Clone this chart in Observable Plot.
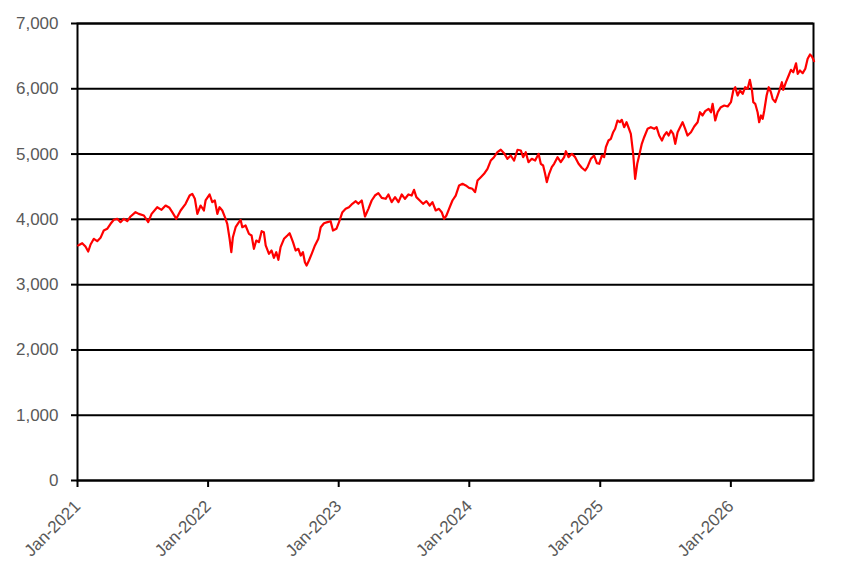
<!DOCTYPE html>
<html><head><meta charset="utf-8">
<script src="https://cdn.jsdelivr.net/npm/d3@7"></script>
<script src="https://cdn.jsdelivr.net/npm/@observablehq/plot@0.6"></script>
<style>body{margin:0;background:#fff}</style>
</head><body><div id="chart"></div>
<script>
// years elapsed since 1 Jan 2021 for each traced point
const yearOffsets = [0.005,0.036,0.061,0.082,0.100,0.125,0.151,0.176,0.201,0.227,0.253,0.278,0.304,0.329,0.355,0.381,0.406,0.444,0.469,0.508,0.541,0.567,0.610,0.643,0.674,0.704,0.725,0.756,0.789,0.827,0.858,0.878,0.898,0.917,0.942,0.967,
0.980,1.011,1.031,1.051,1.070,1.087,1.108,1.128,1.146,1.164,1.177,1.189,1.210,1.235,1.248,1.261,1.286,1.312,1.332,1.350,1.368,1.388,1.409,1.426,1.440,1.465,1.485,1.503,1.521,1.537,1.554,1.580,1.606,1.623,1.649,1.669,1.690,1.708,1.725,1.740,1.753,1.771,1.792,1.817,1.843,1.861,1.886,1.912,1.937,1.955,1.981,2.001,2.027,2.052,
2.077,2.103,2.129,2.149,2.175,2.200,2.226,2.251,2.276,2.302,2.328,2.358,2.379,2.404,2.430,2.456,2.481,2.506,2.532,2.557,2.575,2.593,2.619,2.644,2.670,2.695,2.716,2.741,2.766,2.787,2.805,2.823,2.843,2.869,2.894,2.920,2.946,2.971,
2.996,3.022,3.042,3.061,3.086,3.111,3.137,3.162,3.187,3.213,3.239,3.264,3.290,3.315,3.341,3.367,3.392,3.410,3.430,3.451,3.476,3.502,3.528,3.545,3.563,3.578,3.591,3.609,3.629,3.647,3.673,3.698,3.724,3.737,3.757,3.783,3.808,3.834,3.859,3.884,3.902,3.928,3.953,3.974,3.992,4.012,4.030,4.043,
4.063,4.081,4.099,4.114,4.132,4.150,4.165,4.183,4.201,4.217,4.234,4.252,4.267,4.283,4.298,4.318,4.336,4.362,4.387,4.413,4.431,4.451,4.472,4.489,4.508,4.523,4.541,4.558,4.574,4.592,4.609,4.630,4.650,4.668,4.694,4.719,4.745,4.763,4.783,4.803,4.829,4.847,4.860,4.880,4.898,4.923,4.949,4.975,
5.000,5.018,5.033,5.051,5.069,5.090,5.109,5.128,5.145,5.161,5.171,5.186,5.204,5.216,5.230,5.243,5.255,5.273,5.289,5.306,5.319,5.339,5.357,5.375,5.390,5.400,5.421,5.442,5.459,5.477,5.498,5.511,5.528,5.549,5.569,5.587,5.605,5.620,5.636];

const indexValues = [3600,3635,3584,3508,3615,3702,3666,3717,3829,3855,3932,3993,4008,3957,4008,3972,4044,4110,4084,4059,3957,4084,4186,4146,4212,4177,4110,4008,4136,4238,4365,4391,4315,4084,4212,4136,
4289,4381,4263,4289,4084,4186,4136,4033,3932,3702,3497,3727,3880,3957,3993,3880,3906,3778,3753,3549,3676,3651,3819,3804,3600,3472,3523,3411,3497,3380,3574,3702,3753,3788,3651,3523,3549,3446,3497,3344,3293,3370,3472,3600,3702,3880,3941,3957,3972,3829,3855,3957,4110,4161,
4186,4238,4278,4238,4289,4044,4161,4289,4365,4401,4330,4315,4381,4263,4340,4263,4381,4315,4381,4365,4452,4340,4289,4238,4278,4212,4263,4136,4161,4110,4008,4059,4161,4289,4365,4519,4544,4519,
4483,4468,4416,4595,4646,4698,4774,4901,4953,5029,5066,5014,4927,4978,4901,5066,5055,4953,5029,4876,4927,4901,5004,4851,4825,4698,4570,4698,4799,4851,4953,4876,4953,5044,4953,5004,4953,4851,4790,4748,4799,4927,4978,4860,4851,4978,4953,5105,
5208,5234,5335,5387,5514,5488,5525,5412,5488,5403,5310,5004,4621,4851,4978,5157,5258,5387,5412,5387,5412,5284,5208,5284,5335,5284,5361,5310,5157,5335,5403,5488,5387,5284,5335,5422,5488,5641,5591,5657,5693,5641,5770,5514,5641,5718,5744,5729,
5795,5974,6024,5897,5974,5923,6024,6000,6137,5974,5795,5770,5641,5488,5591,5540,5667,5897,6024,5948,5846,5795,5897,6000,6101,5985,6101,6203,6290,6253,6391,6229,6280,6239,6306,6459,6525,6494,6423];

const yTicks = [0,1000,2000,3000,4000,5000,6000,7000];
const xTickYears = [2021,2022,2023,2024,2025,2026];

const start = Date.UTC(2021,0,1);
const data = yearOffsets.map((t,i) => ({date: new Date(start + t*365.25*86400000), value: indexValues[i]}));
const xTicks = xTickYears.map(y => new Date(Date.UTC(y,0,1)));

const chart = Plot.plot({
  width: 854, height: 576,
  marginLeft: 77, marginRight: 41, marginTop: 23, marginBottom: 96,
  style: {fontFamily: "'Liberation Sans', sans-serif", fontSize: "17px", background: "white", overflow: "visible"},
  x: {type: "utc", domain: [new Date(start), new Date(Date.UTC(2026,7,20))]},
  y: {domain: [0,7000]},
  marks: [
    Plot.gridY(yTicks, {stroke: "black", strokeOpacity: 1, strokeWidth: 2}),
    Plot.axisY(yTicks, {tickSize: 6, tickPadding: 13, tickFormat: d3.format(","), stroke: "black", strokeWidth: 2, fill: "#595959", label: null}),
    Plot.axisX(xTicks, {tickSize: 7, tickRotate: -45, tickPadding: 16, tickFormat: d3.utcFormat("%b-%Y"), stroke: "black", strokeWidth: 2, fill: "#595959", label: null}),
    Plot.frame({stroke: "black", strokeWidth: 2}),
    Plot.lineY(data, {x: "date", y: "value", stroke: "#FF0000", strokeWidth: 2.2})
  ]
});
document.getElementById("chart").append(chart);
</script>
</body></html>
